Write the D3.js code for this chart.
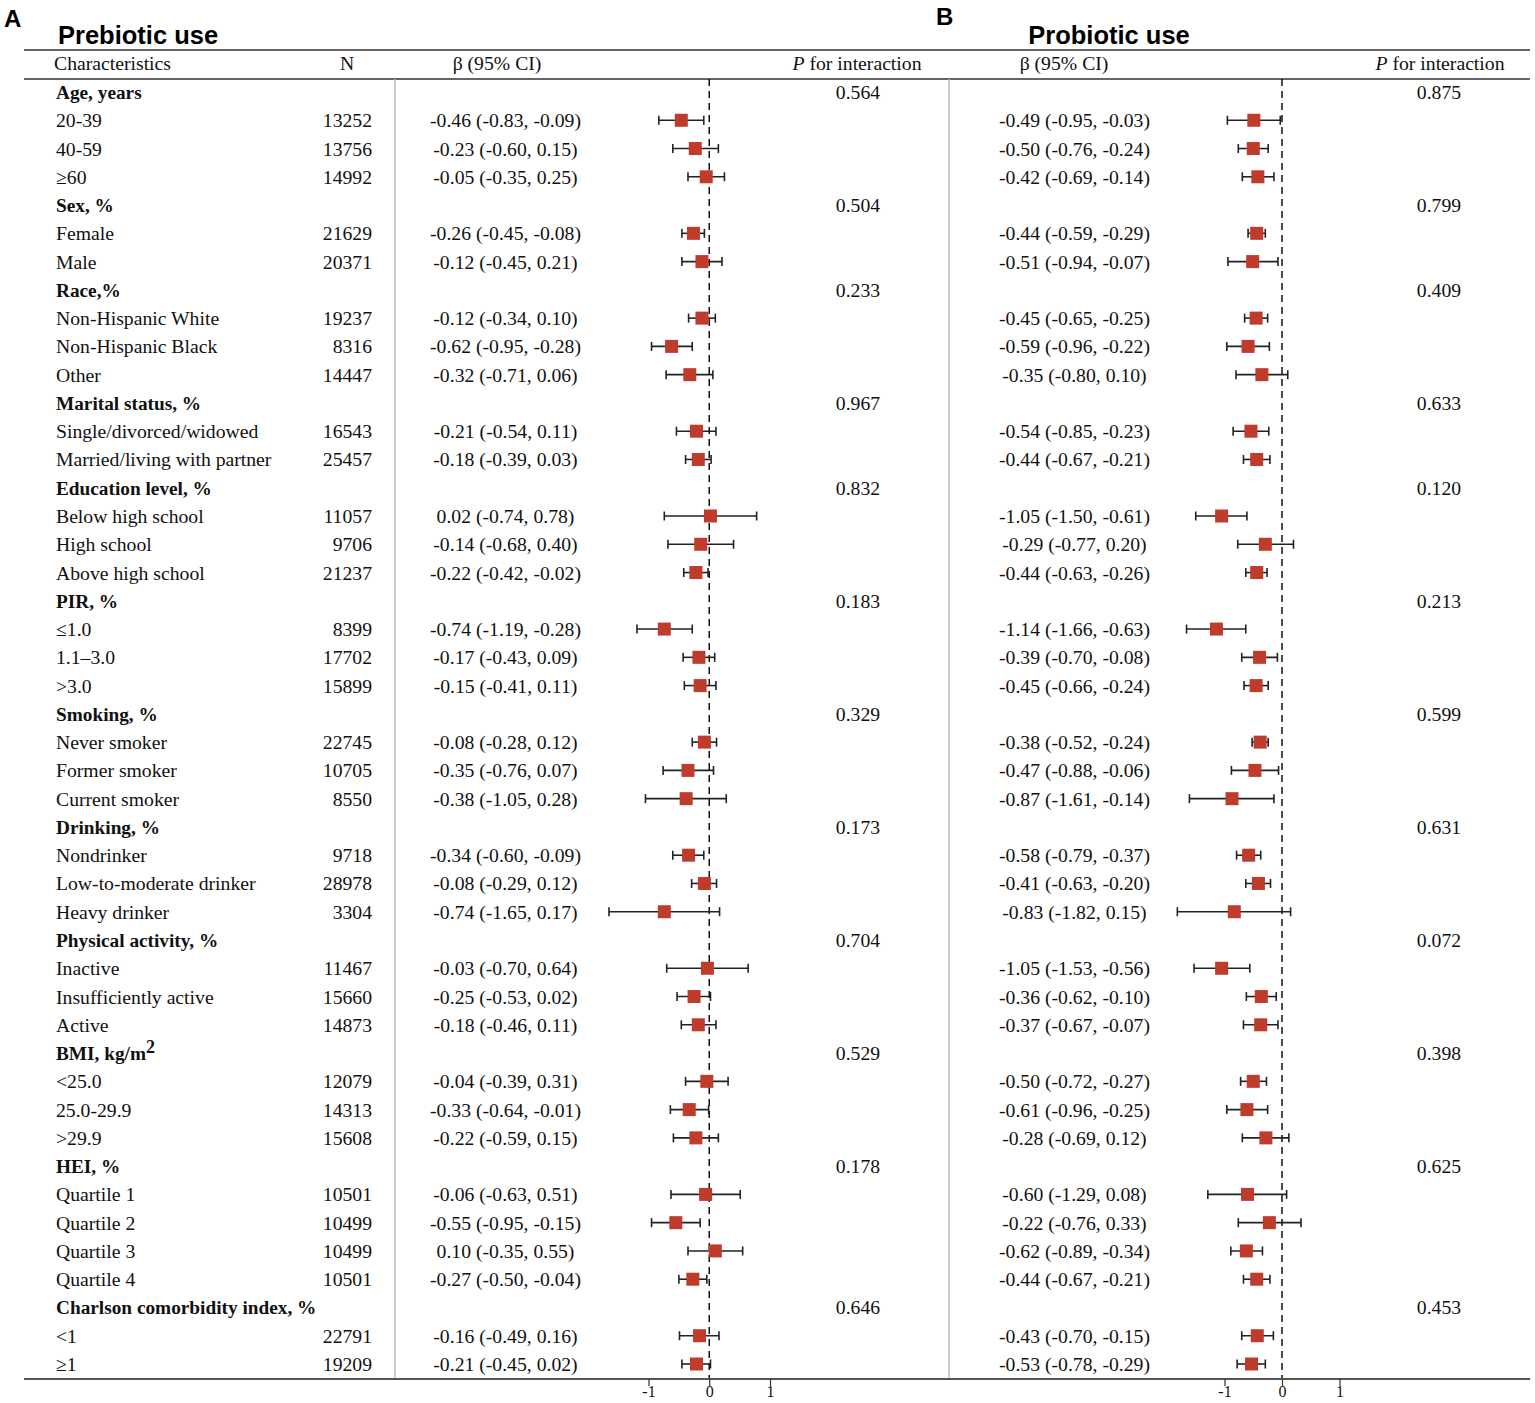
<!DOCTYPE html>
<html><head><meta charset="utf-8">
<script src="https://cdn.jsdelivr.net/npm/d3@7"></script>
<style>
body{margin:0;background:#fff;}
svg{display:block;}
</style></head><body>
<svg id="c" width="1535" height="1403"></svg>
<script>
// ---- data ----
const labels = ["Age, years","20-39","40-59","≥60","Sex, %","Female","Male","Race,%","Non-Hispanic White","Non-Hispanic Black","Other","Marital status, %","Single/divorced/widowed","Married/living with partner","Education level, %","Below high school","High school","Above high school","PIR, %","≤1.0","1.1–3.0",">3.0","Smoking, %","Never smoker","Former smoker","Current smoker","Drinking, %","Nondrinker","Low-to-moderate drinker","Heavy drinker","Physical activity, %","Inactive","Insufficiently active","Active","BMI, kg/m2","<25.0","25.0-29.9",">29.9","HEI, %","Quartile 1","Quartile 2","Quartile 3","Quartile 4","Charlson comorbidity index, %","<1","≥1"];
const isHeader = [1,0,0,0,1,0,0,1,0,0,0,1,0,0,1,0,0,0,1,0,0,0,1,0,0,0,1,0,0,0,1,0,0,0,1,0,0,0,1,0,0,0,0,1,0,0];
const nValues = [null,13252,13756,14992,null,21629,20371,null,19237,8316,14447,null,16543,25457,null,11057,9706,21237,null,8399,17702,15899,null,22745,10705,8550,null,9718,28978,3304,null,11467,15660,14873,null,12079,14313,15608,null,10501,10499,10499,10501,null,22791,19209];

const preBeta = [null,-0.46,-0.23,-0.05,null,-0.26,-0.12,null,-0.12,-0.62,-0.32,null,-0.21,-0.18,null,0.02,-0.14,-0.22,null,-0.74,-0.17,-0.15,null,-0.08,-0.35,-0.38,null,-0.34,-0.08,-0.74,null,-0.03,-0.25,-0.18,null,-0.04,-0.33,-0.22,null,-0.06,-0.55,0.10,-0.27,null,-0.16,-0.21];
const preLow  = [null,-0.83,-0.60,-0.35,null,-0.45,-0.45,null,-0.34,-0.95,-0.71,null,-0.54,-0.39,null,-0.74,-0.68,-0.42,null,-1.19,-0.43,-0.41,null,-0.28,-0.76,-1.05,null,-0.60,-0.29,-1.65,null,-0.70,-0.53,-0.46,null,-0.39,-0.64,-0.59,null,-0.63,-0.95,-0.35,-0.50,null,-0.49,-0.45];
const preHigh = [null,-0.09,0.15,0.25,null,-0.08,0.21,null,0.10,-0.28,0.06,null,0.11,0.03,null,0.78,0.40,-0.02,null,-0.28,0.09,0.11,null,0.12,0.07,0.28,null,-0.09,0.12,0.17,null,0.64,0.02,0.11,null,0.31,-0.01,0.15,null,0.51,-0.15,0.55,-0.04,null,0.16,0.02];
const preP = ["0.564","0.504","0.233","0.967","0.832","0.183","0.329","0.173","0.704","0.529","0.178","0.646"];

const proBeta = [null,-0.49,-0.50,-0.42,null,-0.44,-0.51,null,-0.45,-0.59,-0.35,null,-0.54,-0.44,null,-1.05,-0.29,-0.44,null,-1.14,-0.39,-0.45,null,-0.38,-0.47,-0.87,null,-0.58,-0.41,-0.83,null,-1.05,-0.36,-0.37,null,-0.50,-0.61,-0.28,null,-0.60,-0.22,-0.62,-0.44,null,-0.43,-0.53];
const proLow  = [null,-0.95,-0.76,-0.69,null,-0.59,-0.94,null,-0.65,-0.96,-0.80,null,-0.85,-0.67,null,-1.50,-0.77,-0.63,null,-1.66,-0.70,-0.66,null,-0.52,-0.88,-1.61,null,-0.79,-0.63,-1.82,null,-1.53,-0.62,-0.67,null,-0.72,-0.96,-0.69,null,-1.29,-0.76,-0.89,-0.67,null,-0.70,-0.78];
const proHigh = [null,-0.03,-0.24,-0.14,null,-0.29,-0.07,null,-0.25,-0.22,0.10,null,-0.23,-0.21,null,-0.61,0.20,-0.26,null,-0.63,-0.08,-0.24,null,-0.24,-0.06,-0.14,null,-0.37,-0.20,0.15,null,-0.56,-0.10,-0.07,null,-0.27,-0.25,0.12,null,0.08,0.33,-0.34,-0.21,null,-0.15,-0.29];
const proP = ["0.875","0.799","0.409","0.633","0.120","0.213","0.599","0.631","0.072","0.398","0.625","0.453"];

const tickValues = [-1,0,1];

// ---- layout ----
const svg = d3.select("#c");
const serif = "'Liberation Serif','Times New Roman',serif";
const sans = "'Liberation Sans',Arial,sans-serif";
const fs = 19.7;
const yTop = 79, yBot = 1379;
const y = d3.scalePoint().domain(d3.range(labels.length)).range([92, 1364]);
const xA = d3.scaleLinear().domain([-1,1]).range([648.5, 770]);
const xB = d3.scaleLinear().domain([-1,1]).range([1224.5, 1339.5]);
const red = "#bf3b2c";
const fmt = v => (v < 0 ? "-" : "") + Math.abs(v).toFixed(2);

// panel letters and titles
svg.append("text").attr("x",4).attr("y",27).attr("font-family",sans).attr("font-weight","bold").attr("font-size",24).text("A");
svg.append("text").attr("x",936).attr("y",25).attr("font-family",sans).attr("font-weight","bold").attr("font-size",24).text("B");
svg.append("text").attr("x",58).attr("y",44).attr("font-family",sans).attr("font-weight","bold").attr("font-size",25.5).text("Prebiotic use");
svg.append("text").attr("x",1109).attr("y",44).attr("text-anchor","middle").attr("font-family",sans).attr("font-weight","bold").attr("font-size",25.5).text("Probiotic use");

// horizontal rules
[50, 79].forEach(yy => svg.append("line").attr("x1",24).attr("x2",1530).attr("y1",yy).attr("y2",yy).attr("stroke","#333").attr("stroke-width",1.5));

// gray separators
[395, 949].forEach(xx => svg.append("line").attr("x1",xx).attr("x2",xx).attr("y1",yTop).attr("y2",yBot).attr("stroke","#bbb").attr("stroke-width",1.5));

// header row
const hdr = (x, txt, anchor) => svg.append("text").attr("x",x).attr("y",70).attr("text-anchor",anchor).attr("font-family",serif).attr("font-size",fs).attr("fill","#111").text(txt);
hdr(54,"Characteristics","start");
hdr(347,"N","middle");
hdr(497,"β (95% CI)","middle");
hdr(1064,"β (95% CI)","middle");
[857,1440].forEach(cx => {
  const t = svg.append("text").attr("x",cx).attr("y",70).attr("text-anchor","middle").attr("font-family",serif).attr("font-size",fs).attr("fill","#111");
  t.append("tspan").attr("font-style","italic").text("P");
  t.append("tspan").text(" for interaction");
});

// zero dashed lines
[xA(0), xB(0)].forEach(xx => svg.append("line").attr("x1",xx).attr("x2",xx).attr("y1",yTop).attr("y2",yBot).attr("stroke","#111").attr("stroke-width",1.5).attr("stroke-dasharray","7,5"));

// rows
let hIdx = 0;
labels.forEach((lab, i) => {
  const yy = y(i) + 7;
  const g = svg.append("g").attr("font-family",serif).attr("font-size",fs).attr("fill","#111");
  if (isHeader[i]) {
    const t = g.append("text").attr("x",56).attr("y",yy).attr("font-weight","bold").attr("font-size",19.3);
    if (lab.endsWith("m2")) {
      t.append("tspan").text(lab.slice(0,-1));
      t.append("tspan").attr("dy",-7).attr("font-size",18).text("2");
    } else t.text(lab);
    g.append("text").attr("x",858).attr("y",yy).attr("text-anchor","middle").text(preP[hIdx]);
    g.append("text").attr("x",1439).attr("y",yy).attr("text-anchor","middle").text(proP[hIdx]);
    hIdx++;
  } else {
    g.append("text").attr("x",56).attr("y",yy).text(lab);
    g.append("text").attr("x",372).attr("y",yy).attr("text-anchor","end").text(nValues[i]);
    g.append("text").attr("x",505.5).attr("y",yy).attr("text-anchor","middle").text(`${fmt(preBeta[i])} (${fmt(preLow[i])}, ${fmt(preHigh[i])})`);
    g.append("text").attr("x",1074.5).attr("y",yy).attr("text-anchor","middle").text(`${fmt(proBeta[i])} (${fmt(proLow[i])}, ${fmt(proHigh[i])})`);
  }
});

// forest marks
function forest(xs, b, lo, hi) {
  const idx = d3.range(labels.length).filter(i => b[i] !== null);
  const g = svg.append("g");
  idx.forEach(i => {
    const yy = y(i);
    g.append("line").attr("x1",xs(lo[i])).attr("x2",xs(hi[i])).attr("y1",yy).attr("y2",yy).attr("stroke","#222").attr("stroke-width",1.6);
    [lo[i], hi[i]].forEach(v => g.append("line").attr("x1",xs(v)).attr("x2",xs(v)).attr("y1",yy-4.5).attr("y2",yy+4.5).attr("stroke","#222").attr("stroke-width",1.6));
    g.append("rect").attr("x",xs(b[i])-6.5).attr("y",yy-6.5).attr("width",13).attr("height",13).attr("fill",red);
  });
}
forest(xA, preBeta, preLow, preHigh);
forest(xB, proBeta, proLow, proHigh);

// bottom axis line
svg.append("line").attr("x1",24).attr("x2",1530).attr("y1",yBot).attr("y2",yBot).attr("stroke","#555").attr("stroke-width",2);

// axes
[xA, xB].forEach(xs => {
  const ax = svg.append("g").attr("transform",`translate(0,${yBot})`)
    .call(d3.axisBottom(xs).tickValues(tickValues).tickSize(7).tickPadding(0).tickFormat(d3.format("d")));
  ax.select(".domain").remove();
  ax.selectAll("line").attr("stroke","#333").attr("stroke-width",1.2);
  ax.selectAll("text").attr("font-family",serif).attr("font-size",16).attr("fill","#111").text(d => d < 0 ? "-" + Math.abs(d) : d);
});
</script>
</body></html>
